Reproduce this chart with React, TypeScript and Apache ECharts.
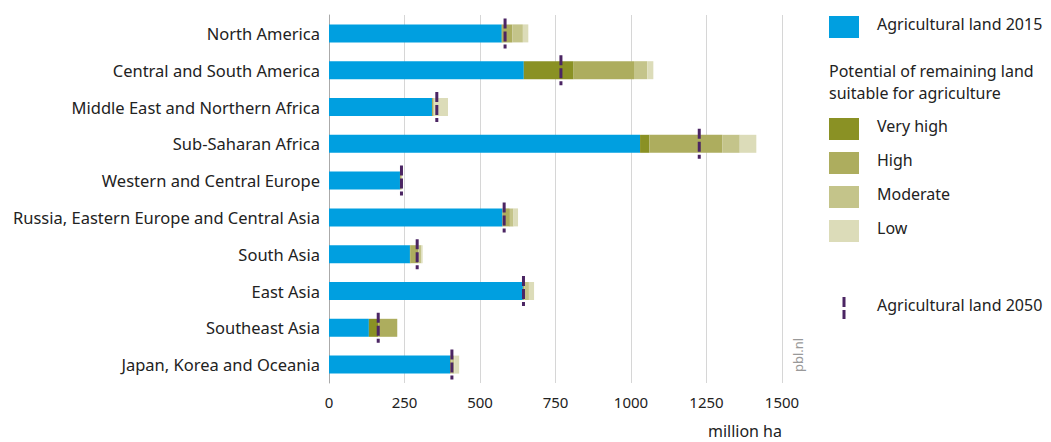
import React, { useEffect, useRef } from "react";
import * as echarts from "echarts";

const categories = [
  "North America",
  "Central and South America",
  "Middle East and Northern Africa",
  "Sub-Saharan Africa",
  "Western and Central Europe",
  "Russia, Eastern Europe and Central Asia",
  "South Asia",
  "East Asia",
  "Southeast Asia",
  "Japan, Korea and Oceania",
];
const agri2015 = [572, 645, 341, 1030, 235, 574, 268, 642, 132, 401];
const veryHigh = [3, 165, 0, 31, 0, 1, 2, 0, 31, 0];
const high = [32, 200, 4, 241, 3, 24, 26, 5, 63, 4];
const moderate = [35, 44, 3, 58, 3, 12, 10, 15, 0, 10];
const low = [18, 20, 46, 55, 2, 15, 4, 17, 0, 16];
const agri2050 = [583, 768, 357, 1226, 240, 580, 292, 644, 163, 407];
const xTicks = [0, 250, 500, 750, 1000, 1250, 1500];

const FONT = "Noto Sans";
const C_BLUE = "#009fe0";
const C_VH = "#8a9124";
const C_H = "#adad5e";
const C_M = "#c4c48a";
const C_L = "#dcdcb9";
const C_MARK = "#4b2563";
const TXT = "#222";

export default function App() {
  const ref = useRef<HTMLDivElement>(null);
  useEffect(() => {
    document.body.style.margin = "0";
    const chart = echarts.init(ref.current!, undefined, { renderer: "svg" });
    const barBase = {
      type: "bar" as const,
      stack: "land",
      barWidth: 18,
      emphasis: { disabled: true },
    };
    const legendRow = (y: number, color: string, label: string) => [
      { type: "rect", left: 829, top: y - 11, shape: { width: 30, height: 22 }, style: { fill: color } },
      {
        type: "text",
        left: 877,
        top: y - 11,
        style: { text: label, fill: TXT, font: `16px '${FONT}'` },
      },
    ];
    chart.setOption({
      animation: false,
      textStyle: { fontFamily: FONT },
      grid: { left: 329, right: 269, top: 15, height: 368, containLabel: false },
      xAxis: {
        type: "value",
        min: 0,
        max: 1500,
        interval: 250,
        axisLine: { show: false },
        axisTick: { show: false },
        splitLine: { lineStyle: { color: "#d6d6d6", width: 1 } },
        axisLabel: {
          margin: 11,
          fontSize: 15,
          color: TXT,
          fontFamily: FONT,
          formatter: (v: number) => (xTicks.includes(v) ? String(v) : ""),
        },
        name: "million ha",
        nameLocation: "end",
        nameGap: 0,
        nameTextStyle: {
          align: "right",
          verticalAlign: "top",
          fontSize: 16,
          color: TXT,
          fontFamily: FONT,
          padding: [40, 0, 0, 0],
        },
      },
      yAxis: {
        type: "category",
        data: categories,
        inverse: true,
        axisLine: { show: true, lineStyle: { color: "#aaaaaa", width: 1 } },
        axisTick: { show: false },
        axisLabel: { margin: 9, fontSize: 16.5, color: TXT, fontFamily: FONT },
      },
      series: [
        { ...barBase, name: "Agricultural land 2015", data: agri2015, itemStyle: { color: C_BLUE } },
        { ...barBase, name: "Very high", data: veryHigh, itemStyle: { color: C_VH } },
        { ...barBase, name: "High", data: high, itemStyle: { color: C_H } },
        { ...barBase, name: "Moderate", data: moderate, itemStyle: { color: C_M } },
        { ...barBase, name: "Low", data: low, itemStyle: { color: C_L } },
        {
          type: "custom",
          name: "Agricultural land 2050",
          data: agri2050.map((v, i) => [v, i]),
          encode: { x: 0, y: 1 },
          z: 10,
          renderItem: (params: any, api: any) => {
            const p = api.coord([api.value(0), api.value(1)]);
            return {
              type: "line",
              shape: { x1: p[0], y1: p[1] - 15, x2: p[0], y2: p[1] + 15 },
              style: { stroke: C_MARK, lineWidth: 3, lineDash: [10, 3] },
            };
          },
        },
      ],
      graphic: [
        ...legendRow(27, C_BLUE, "Agricultural land 2015"),
        {
          type: "text",
          left: 829,
          top: 60,
          style: {
            text: "Potential of remaining land\nsuitable for agriculture",
            fill: TXT,
            font: `16px '${FONT}'`,
            lineHeight: 22,
          },
        },
        ...legendRow(129, C_VH, "Very high"),
        ...legendRow(163, C_H, "High"),
        ...legendRow(197, C_M, "Moderate"),
        ...legendRow(231, C_L, "Low"),
        {
          type: "line",
          shape: { x1: 844, y1: 297, x2: 844, y2: 319 },
          style: { stroke: C_MARK, lineWidth: 3, lineDash: [10, 3] },
        },
        {
          type: "text",
          left: 877,
          top: 297,
          style: { text: "Agricultural land 2050", fill: TXT, font: `16px '${FONT}'` },
        },
        {
          type: "text",
          x: 791,
          y: 372,
          rotation: Math.PI / 2,
          style: { text: "pbl.nl", fill: "#999999", font: `13px '${FONT}'` },
        },
      ],
    });
    return () => chart.dispose();
  }, []);
  return <div ref={ref} style={{ width: 1051, height: 442 }} />;
}
